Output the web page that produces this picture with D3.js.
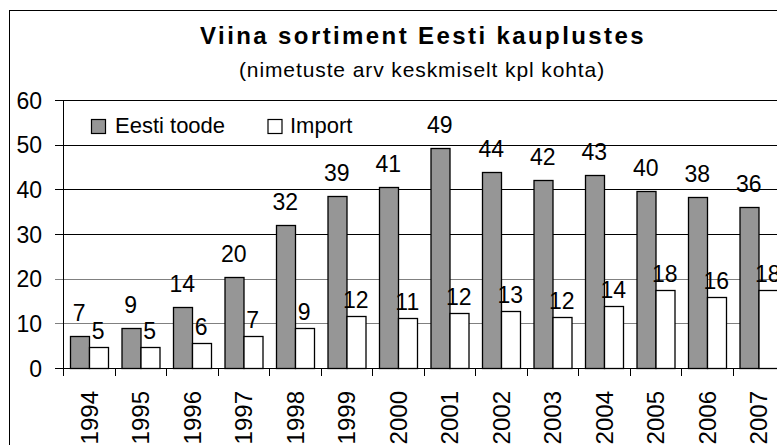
<!DOCTYPE html>
<html>
<head>
<meta charset="utf-8">
<script src="https://cdn.jsdelivr.net/npm/d3@7"></script>
<style>
    body { margin: 0; background: #fff; }
    svg { display: block; font-family: "Liberation Sans", Arial, sans-serif; }
</style>
</head>
<body>
<div id="chart"></div>
<script>
// data
const years = ['1994', '1995', '1996', '1997', '1998', '1999', '2000',
               '2001', '2002', '2003', '2004', '2005', '2006', '2007'];
const eestiToode = [7.2, 8.9, 13.6, 20.4, 32.1, 38.6, 40.6, 49.3, 43.9, 42.1, 43.2, 39.7, 38.2, 36.1];
const importVals = [4.6, 4.6, 5.7, 7.2, 8.9, 11.7, 11.3, 12.4, 12.8, 11.5, 13.9, 17.5, 16.0, 17.5];
const seriesNames = ['Eesti toode', 'Import'];
const yTicks = [0, 10, 20, 30, 40, 50, 60];

const width = 777;
const height = 445;
const plot = { left: 63, right: 784, top: 100, bottom: 368 };

const svg = d3.select('#chart')
    .append('svg')
    .attr('width', width)
    .attr('height', height);

svg.append('rect')
    .attr('width', width)
    .attr('height', height)
    .attr('fill', '#fff');

// outer chart border (runs off the right and bottom edges)
svg.append('rect')
    .attr('x', 9.5)
    .attr('y', 10.5)
    .attr('width', 900)
    .attr('height', 600)
    .attr('fill', 'none')
    .attr('stroke', '#000')
    .attr('stroke-width', 1);

const x = d3.scaleBand()
    .domain(years)
    .range([plot.left, plot.right]);

const xInner = d3.scaleBand()
    .domain(seriesNames)
    .range([x.step() * 0.131, x.step() * 0.869]);

const y = d3.scaleLinear()
    .domain([0, 60])
    .range([plot.bottom, plot.top]);

// gridlines
svg.append('g')
    .selectAll('line')
    .data(yTicks.filter(d => d > 0))
    .join('line')
    .attr('x1', plot.left - 8)
    .attr('x2', width)
    .attr('y1', d => Math.round(y(d)) + 0.5)
    .attr('y2', d => Math.round(y(d)) + 0.5)
    .attr('stroke', d => d >= 30 ? '#000' : '#808080')
    .attr('stroke-width', 1);

// y tick labels
svg.append('g')
    .selectAll('text')
    .data(yTicks)
    .join('text')
    .attr('x', 42)
    .attr('y', d => y(d) + 8.5)
    .attr('text-anchor', 'end')
    .attr('font-size', 23)
    .attr('fill', '#000')
    .text(d => d);

const rows = years.map((yr, i) => ({ year: yr, values: [eestiToode[i], importVals[i]] }));

const group = svg.append('g')
    .selectAll('g')
    .data(rows)
    .join('g')
    .attr('transform', d => `translate(${x(d.year)},0)`);

group.selectAll('rect')
    .data(d => d.values.map((v, k) => ({ name: seriesNames[k], v })))
    .join('rect')
    .attr('x', d => Math.round(xInner(d.name)) + 0.5)
    .attr('y', d => Math.round(y(d.v)) + 0.5)
    .attr('width', Math.round(xInner.bandwidth()))
    .attr('height', d => plot.bottom - Math.round(y(d.v)))
    .attr('fill', d => d.name === 'Import' ? '#fff' : '#969696')
    .attr('stroke', '#000')
    .attr('stroke-width', 1.3);

// data labels
group.selectAll('text')
    .data(d => d.values.map((v, k) => ({ name: seriesNames[k], v })))
    .join('text')
    .attr('x', d => xInner(d.name) + xInner.bandwidth() / 2)
    .attr('y', d => y(d.v) - (d.name === 'Import' ? 8 : 15))
    .attr('text-anchor', 'middle')
    .attr('font-size', 23)
    .attr('fill', '#000')
    .text(d => Math.round(d.v));

// axes lines
svg.append('line')
    .attr('x1', plot.left + 0.5).attr('x2', plot.left + 0.5)
    .attr('y1', plot.top).attr('y2', plot.bottom)
    .attr('stroke', '#000');

svg.append('line')
    .attr('x1', plot.left - 8).attr('x2', width)
    .attr('y1', plot.bottom + 0.5).attr('y2', plot.bottom + 0.5)
    .attr('stroke', '#000');

// x ticks between categories
svg.append('g')
    .selectAll('line')
    .data(years)
    .join('line')
    .attr('x1', d => Math.round(x(d)) + 0.5)
    .attr('x2', d => Math.round(x(d)) + 0.5)
    .attr('y1', plot.bottom)
    .attr('y2', plot.bottom + 8)
    .attr('stroke', '#000');

// rotated year labels
svg.append('g')
    .selectAll('text')
    .data(years)
    .join('text')
    .attr('transform', d => `translate(${x(d) + x.bandwidth() / 2 + 9},391) rotate(-90)`)
    .attr('text-anchor', 'end')
    .attr('font-size', 24)
    .attr('fill', '#000')
    .text(d => d);

// title
svg.append('text')
    .attr('x', 423)
    .attr('y', 44)
    .attr('text-anchor', 'middle')
    .attr('font-size', 24)
    .attr('font-weight', 'bold')
    .attr('letter-spacing', 2.4)
    .text('Viina sortiment Eesti kauplustes');

svg.append('text')
    .attr('x', 422)
    .attr('y', 77)
    .attr('text-anchor', 'middle')
    .attr('font-size', 21)
    .attr('letter-spacing', 0.9)
    .text('(nimetuste arv keskmiselt kpl kohta)');

// legend
const legend = svg.append('g')
    .selectAll('g')
    .data(seriesNames)
    .join('g')
    .attr('transform', (d, i) => `translate(${i === 0 ? 91 : 267.5},119)`);

legend.append('rect')
    .attr('x', 0.5).attr('y', 0.5)
    .attr('width', 14).attr('height', 14)
    .attr('fill', d => d === 'Import' ? '#fff' : '#969696')
    .attr('stroke', '#000')
    .attr('stroke-width', 1.2);

legend.append('text')
    .attr('x', d => d === 'Import' ? 22.5 : 24)
    .attr('y', 14)
    .attr('font-size', 22)
    .text(d => d);
</script>
</body>
</html>
